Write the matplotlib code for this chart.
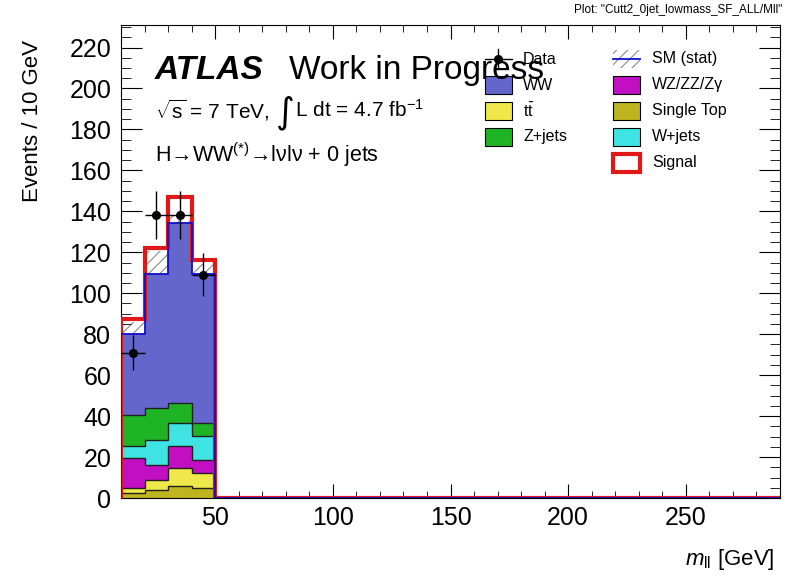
import numpy as np
import matplotlib
matplotlib.use("Agg")
import matplotlib.pyplot as plt
from matplotlib.patches import Rectangle
from matplotlib.lines import Line2D

plt.rcParams['font.family'] = ['Liberation Sans', 'DejaVu Sans']
plt.rcParams['mathtext.fontset'] = 'custom'
plt.rcParams['mathtext.rm'] = 'Liberation Sans'
plt.rcParams['mathtext.it'] = 'Liberation Sans:italic'
plt.rcParams['mathtext.bf'] = 'Liberation Sans:bold'
plt.rcParams['hatch.linewidth'] = 0.8

# m_ll bins, 10 GeV wide from 10 to 290
edges = np.arange(10, 300, 10)
nb = len(edges) - 1

def pad(vals):
    out = np.zeros(nb)
    out[:len(vals)] = vals
    return out

# component yields (only first four bins filled)
single_top = pad([2.4, 4.1, 5.7, 4.9])
ttbar      = pad([2.5, 4.9, 9.0, 7.3])
diboson    = pad([14.7, 7.3, 10.5, 6.5])   # WZ/ZZ/Zgamma
wjets      = pad([5.6, 12.2, 11.5, 11.5])
zjets      = pad([15.5, 15.5, 9.7, 6.5])
ww         = pad([39.5, 65.5, 88.1, 72.8])
signal     = pad([7.3, 12.7, 12.7, 6.5])
stat_err   = pad([5.7, 10.9, 3.3, 4.9])

data_x = [15, 25, 35, 45]
data_y = [71, 138, 138, 109]

stack = [
    (single_top, '#bdb41f'),
    (ttbar,      '#eee84a'),
    (diboson,    '#c20fc2'),
    (wjets,      '#3fe3e3'),
    (zjets,      '#1fb424'),
    (ww,         '#6466cc'),
]

fig = plt.figure(figsize=(7.87, 5.79), dpi=100)
ax = fig.add_axes([121/787, 1 - 498/579, (780 - 121)/787, (498 - 25)/579])

total = sum(s[0] for s in stack)

# stat band (upper half stays visible above the stack)
ax.stairs(total + stat_err, edges, baseline=total - stat_err, fill=True,
          facecolor='none', edgecolor='#8a8a8a', hatch='///', linewidth=0, zorder=1)

bottom = np.zeros(nb)
for vals, col in stack:
    top = bottom + vals
    ax.stairs(top, edges, baseline=bottom, fill=True, color=col, zorder=2)
    bottom = top
bottom = np.zeros(nb)
for vals, col in stack[:-1]:
    bottom = bottom + vals
    ax.stairs(bottom, edges, color='#202020', linewidth=1.0, zorder=3, baseline=None)

# signal on top of SM
ax.stairs(total + signal, edges, baseline=0, color='#e01818', linewidth=3.0, zorder=4)
ax.stairs(total, edges, baseline=0, color='#1010c8', linewidth=1.3, zorder=5)

ax.errorbar(data_x, data_y, xerr=5, yerr=np.sqrt(data_y), fmt='o', color='black',
            markersize=5.5, elinewidth=1.0, capsize=0, zorder=6)

ax.set_xlim(10, 290)
ax.set_ylim(0, 231)
ax.set_xticks([50, 100, 150, 200, 250])
ax.set_xticks(np.arange(10, 291, 10), minor=True)
ax.set_yticks(np.arange(0, 221, 20))
ax.set_yticks(np.arange(0, 231, 5), minor=True)
ax.tick_params(which='both', direction='in', top=True, right=True, labelsize=18)
ax.tick_params(axis='y', which='major', length=15, pad=7)
ax.tick_params(axis='y', which='minor', length=7.5)
ax.tick_params(axis='x', which='major', length=10, pad=6)
ax.tick_params(axis='x', which='minor', length=5)
for sp in ax.spines.values():
    sp.set_linewidth(0.8)

fig.text(33/787, 1 - 40/579, 'Events / 10 GeV', rotation=90, ha='center', va='top', fontsize=16)
fig.text(775/787, 1 - 560/579, r'$m_{\mathrm{ll}}$ [GeV]', ha='right', va='center', fontsize=16)
fig.text(782/787, 1 - 10/579, 'Plot: "Cutt2_0jet_lowmass_SF_ALL/Mll"', ha='right', va='center', fontsize=8.5)

fig.text(155/787, 1 - 70/579, 'ATLAS', fontsize=24, fontweight='bold', style='italic', va='center')
fig.text(289/787, 1 - 70/579, 'Work in Progress', fontsize=24, va='center')
fig.text(155/787, 1 - 110/579, r'$\sqrt{\mathrm{s}}$ = 7 TeV,', fontsize=15, va='center')
fig.text(276/787, 1 - 113/579, '∫', fontsize=26, va='center',
         family=['DejaVu Sans'])
fig.text(295/787, 1 - 110/579, r'L dt = 4.7 fb$^{-1}$', fontsize=15, va='center')
fig.text(155/787, 1 - 155/579, r'H→WW$^{(*)}$→lνlν + 0 jets', fontsize=15.5, va='center')

# legend, drawn in figure pixels
W, H = 787, 579
def box(x, y, **kw):
    fig.add_artist(Rectangle(((x) / W, 1 - (y + 9) / H), 27 / W, 18 / H, transform=fig.transFigure, **kw))

def label(x, y, s):
    fig.text(x / W, 1 - y / H, s, fontsize=11.5, va='center')

rows = [59, 85, 111, 137, 163]
c1, c2 = 485, 613
# Data
fig.add_artist(Line2D([c1 / W, (c1 + 27) / W], [1 - rows[0] / H] * 2, color='black', lw=1, transform=fig.transFigure))
fig.add_artist(Line2D([(c1 + 13.5) / W] * 2, [1 - (rows[0] - 10) / H, 1 - (rows[0] + 10) / H], color='black', lw=1, transform=fig.transFigure))
fig.add_artist(Line2D([(c1 + 13.5) / W], [1 - rows[0] / H], marker='o', markersize=5.5, color='black', transform=fig.transFigure))
label(c1 + 38, rows[0], 'Data')
box(c1, rows[1], facecolor='#6466cc', edgecolor='black', lw=0.8)
label(c1 + 38, rows[1], 'WW')
box(c1, rows[2], facecolor='#eee84a', edgecolor='black', lw=0.8)
label(c1 + 38, rows[2], r't$\bar{\mathrm{t}}$')
box(c1, rows[3], facecolor='#1fb424', edgecolor='black', lw=0.8)
label(c1 + 38, rows[3], 'Z+jets')

box(c2, rows[0], facecolor='none', edgecolor='#8a8a8a', hatch='///', lw=0)
fig.add_artist(Line2D([c2 / W, (c2 + 27) / W], [1 - rows[0] / H] * 2, color='#1010c8', lw=1.3, transform=fig.transFigure))
label(c2 + 39, rows[0], 'SM (stat)')
box(c2, rows[1], facecolor='#c20fc2', edgecolor='black', lw=0.8)
label(c2 + 39, rows[1], 'WZ/ZZ/Zγ')
box(c2, rows[2], facecolor='#bdb41f', edgecolor='black', lw=0.8)
label(c2 + 39, rows[2], 'Single Top')
box(c2, rows[3], facecolor='#3fe3e3', edgecolor='black', lw=0.8)
label(c2 + 39, rows[3], 'W+jets')
box(c2, rows[4], facecolor='white', edgecolor='#e01818', lw=3)
label(c2 + 39, rows[4], 'Signal')

fig.savefig('out.png', dpi=100)
